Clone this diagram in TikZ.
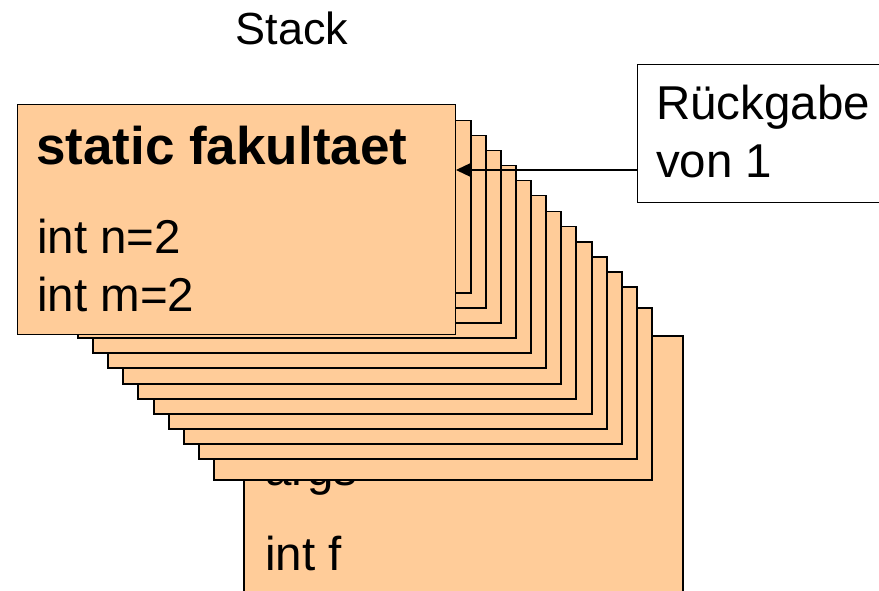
\documentclass[tikz,border=0pt]{standalone}
\usepackage{fontspec}
\setmainfont{Liberation Sans}
\usetikzlibrary{arrows.meta}
\definecolor{framefill}{HTML}{FFCC99}
\tikzset{
  frame/.style={draw=black, fill=framefill, line width=1.5pt, inner sep=0pt,
    anchor=north west, minimum width=438pt, minimum height=172pt},
  callbox/.style={draw=black, fill=white, line width=1.2pt, inner sep=0pt,
    anchor=north west},
  bigtext/.style={inner sep=0pt, anchor=base west,
    font=\fontsize{47.5}{56}\selectfont},
  headtext/.style={inner sep=0pt, anchor=base west,
    font=\fontsize{53}{60}\selectfont\bfseries},
  pointer/.style={draw=black, line width=1.2pt,
    -{Triangle[length=15pt,width=14pt]}}
}
\begin{document}
\begin{tikzpicture}[x=1pt,y=-1pt]
\useasboundingbox (0,0) rectangle (879,591);
\clip (0,0) rectangle (879,591);

% title
\node[inner sep=0pt, anchor=base, font=\fontsize{45}{54}\selectfont] (title) at (292,45) {Stack};

% frame of main, partly hidden below the others
\node[frame, minimum width=439pt, minimum height=300pt] (base) at (243,335) {};
\node[bigtext] (args) at (265,485) {args};
\node[bigtext] (intf) at (265,570) {int f};

% frames of the recursive calls, drawn from the deepest upwards
\foreach \i/\l/\t in {13/213/307, 12/198/286, 11/183/271, 10/168/256,
                      9/153/241, 8/137/226, 7/122/211, 6/107/195,
                      5/92/180, 4/77/165, 3/62/150, 2/47/135, 1/32/120}
  \node[frame] (card\i) at (\l,\t) {};

% current frame on top
\node[frame, line width=1.2pt, minimum height=230pt] (card0) at (17,104) {};
\node[headtext] (fname) at (36,165) {static fakultaet};
\node[bigtext] (varn) at (37,254) {int n=2};
\node[bigtext] (varm) at (37,311) {int m=2};

% return value annotation
\node[callbox, minimum width=270pt, minimum height=138pt] (callout) at (637,64) {};
\node[bigtext] (ret1) at (656,120) {Rückgabe};
\node[bigtext] (ret2) at (656,178) {von 1};

\coordinate (rtail) at (637,170);
\coordinate (rtip) at (456,170);
\draw[pointer] (rtail) -- (rtip);
\end{tikzpicture}
\end{document}
